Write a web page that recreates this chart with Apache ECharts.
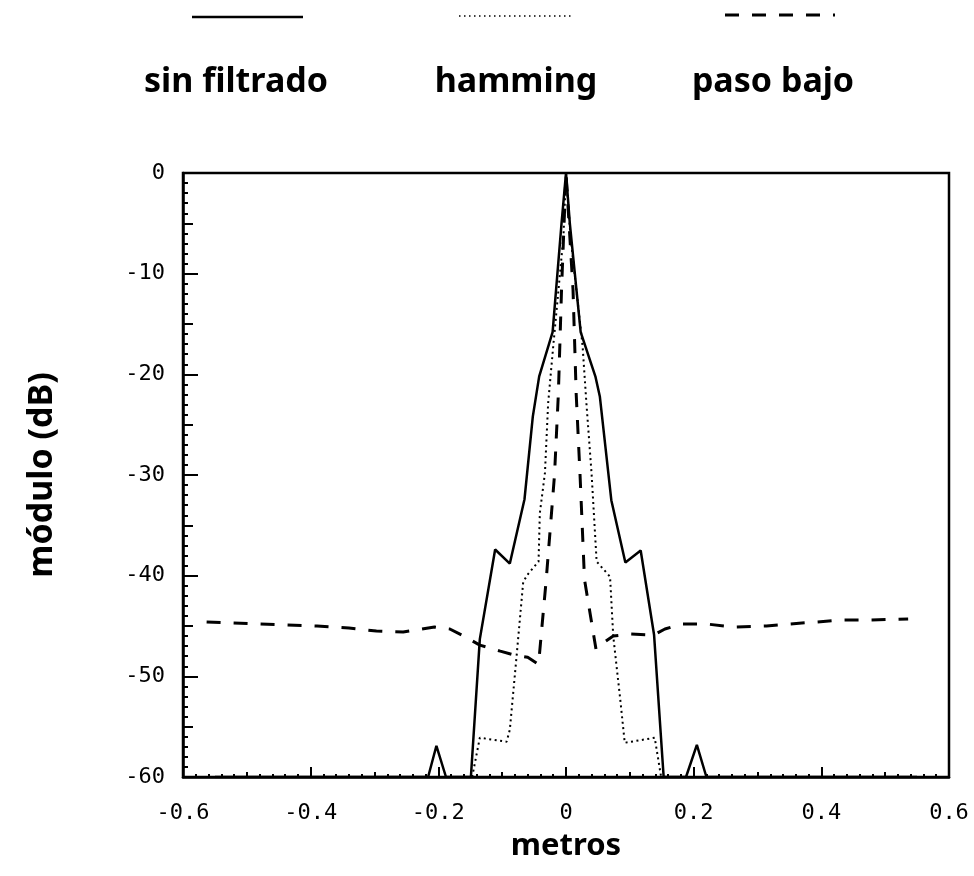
<!DOCTYPE html>
<html>
<head>
<meta charset="utf-8">
<title>modulo dB</title>
<script src="https://cdn.jsdelivr.net/npm/echarts@6/dist/echarts.min.js"></script>
<style>
  html, body { margin: 0; padding: 0; background: #fff; }
  .box { width: 974px; height: 876px; }
</style>
</head>
<body>
<div class="box"></div>
<script>
// datos (metros / dB)
var sinFiltradoX = [-0.55, -0.216, -0.203, -0.188, -0.149, -0.135, -0.111, -0.088, -0.065, -0.052, -0.042, -0.021, -0.007, 0, 0.006, 0.023, 0.046, 0.053, 0.071, 0.093, 0.117, 0.138, 0.153, 0.188, 0.205, 0.220, 0.55];
var sinFiltradoY = [-60, -60, -56.9, -60, -60, -46.3, -37.4, -38.8, -32.4, -24.2, -20.2, -15.8, -5, 0, -5, -15.8, -20.2, -22.2, -32.5, -38.7, -37.5, -45.9, -60, -60, -56.8, -60, -60];

var hammingX = [-0.147, -0.135, -0.093, -0.088, -0.077, -0.067, -0.059, -0.043, -0.041, -0.033, -0.028, -0.020, -0.004, 0, 0.007, 0.026, 0.032, 0.040, 0.048, 0.069, 0.074, 0.085, 0.092, 0.139, 0.149];
var hammingY = [-60, -56.1, -56.5, -55.3, -47.7, -40.6, -39.8, -38.6, -33.8, -29.8, -22.9, -17.2, -6.3, 0, -6.3, -17.2, -22.9, -29.8, -38.6, -40.1, -46, -52.3, -56.6, -56.1, -60];

var pasoBajoX = [-0.563, -0.48, -0.39, -0.34, -0.297, -0.255, -0.206, -0.182, -0.16, -0.135, -0.103, -0.08, -0.06, -0.043, -0.031, -0.018, -0.012, -0.007, 0, 0.011, 0.016, 0.022, 0.029, 0.047, 0.058, 0.074, 0.1, 0.137, 0.155, 0.181, 0.22, 0.262, 0.314, 0.35, 0.393, 0.435, 0.476, 0.536];
var pasoBajoY = [-44.6, -44.8, -45.0, -45.2, -45.5, -45.6, -45.1, -45.3, -46.0, -46.9, -47.5, -47.9, -48.1, -48.8, -40.4, -30, -22, -11.6, 0, -11.6, -22, -30, -40.4, -47.3, -46.7, -46.0, -45.8, -45.9, -45.3, -44.8, -44.8, -45.1, -45.0, -44.8, -44.6, -44.4, -44.4, -44.3];

var nombres = ['sin filtrado', 'hamming', 'paso bajo'];

function pares(xs, ys) {
    var out = [];
    for (var i = 0; i < xs.length; i++) {
        out.push([xs[i], ys[i]]);
    }
    return out;
}

var fuente = '"Noto Sans", sans-serif';
var mono = '"DejaVu Sans Mono", monospace';

var myChart = echarts.init(document.querySelector('.box'), null, { renderer: 'canvas' });

var option = {
    backgroundColor: '#fff',
    animation: false,
    grid: {
        left: 183, right: 25, top: 173, bottom: 99,
        show: true, borderColor: '#000', borderWidth: 2.5, backgroundColor: 'transparent'
    },
    xAxis: [
        {
            type: 'value', min: -0.6, max: 0.6, interval: 0.2,
            name: 'metros', nameLocation: 'middle', nameGap: 54,
            nameTextStyle: { fontFamily: fuente, fontWeight: 'bold', fontSize: 31, color: '#000' },
            axisLine: { onZero: false, lineStyle: { color: '#000', width: 2.5 } },
            axisTick: { inside: true, length: 10, lineStyle: { color: '#000', width: 2 } },
            minorTick: { show: true, splitNumber: 10, length: 3, lineStyle: { color: '#000', width: 2 } },
            splitLine: { show: false },
            axisLabel: {
                margin: 25, fontFamily: mono, fontSize: 22, color: '#000',
                formatter: function (v) { return Math.abs(v) < 1e-9 ? '0' : v.toFixed(1); }
            }
        },
        {
            // marcas intermedias cada 0.1
            type: 'value', min: -0.6, max: 0.6, interval: 0.1, position: 'bottom',
            axisLine: { show: false, onZero: false },
            axisTick: { inside: true, length: 5, lineStyle: { color: '#000', width: 2 } },
            axisLabel: { show: false },
            splitLine: { show: false }
        }
    ],
    yAxis: [
        {
            type: 'value', min: -60, max: 0, interval: 10,
            name: 'módulo (dB)', nameLocation: 'middle', nameGap: 124,
            nameTextStyle: { fontFamily: fuente, fontWeight: 'bold', fontSize: 34, color: '#000' },
            axisLine: { onZero: false, lineStyle: { color: '#000', width: 2.5 } },
            axisTick: { inside: true, length: 15, lineStyle: { color: '#000', width: 2 } },
            minorTick: { show: true, splitNumber: 10, length: 5, lineStyle: { color: '#000', width: 2 } },
            splitLine: { show: false },
            axisLabel: { margin: 18, fontFamily: mono, fontSize: 22, color: '#000' }
        },
        {
            // marcas intermedias cada 5 dB
            type: 'value', min: -60, max: 0, interval: 5, position: 'left',
            axisLine: { show: false, onZero: false },
            axisTick: { inside: true, length: 10, lineStyle: { color: '#000', width: 2 } },
            axisLabel: { show: false },
            splitLine: { show: false }
        }
    ],
    // leyenda dibujada a mano: muestra de linea arriba y texto debajo
    graphic: [
        { type: 'line', shape: { x1: 192, y1: 17, x2: 303, y2: 17 }, style: { stroke: '#000', lineWidth: 2.5 } },
        { type: 'line', shape: { x1: 459, y1: 16, x2: 571, y2: 16 }, style: { stroke: '#000', lineWidth: 1.5, lineDash: [1.5, 3.5] } },
        { type: 'line', shape: { x1: 725, y1: 15, x2: 835, y2: 15 }, style: { stroke: '#000', lineWidth: 3, lineDash: [14, 13] } },
        { type: 'text', x: 236, y: 82, style: { text: nombres[0], fill: '#000', font: 'bold 34px ' + fuente, textAlign: 'center', textVerticalAlign: 'middle' } },
        { type: 'text', x: 516, y: 82, style: { text: nombres[1], fill: '#000', font: 'bold 34px ' + fuente, textAlign: 'center', textVerticalAlign: 'middle' } },
        { type: 'text', x: 773, y: 82, style: { text: nombres[2], fill: '#000', font: 'bold 34px ' + fuente, textAlign: 'center', textVerticalAlign: 'middle' } }
    ],
    series: [
        {
            name: nombres[0], type: 'line', xAxisIndex: 0, yAxisIndex: 0,
            data: pares(sinFiltradoX, sinFiltradoY),
            showSymbol: false, clip: true,
            lineStyle: { color: '#000', width: 2.5, type: 'solid' }
        },
        {
            name: nombres[1], type: 'line', xAxisIndex: 0, yAxisIndex: 0,
            data: pares(hammingX, hammingY),
            showSymbol: false, clip: true,
            lineStyle: { color: '#000', width: 2, type: [2, 3.5] }
        },
        {
            name: nombres[2], type: 'line', xAxisIndex: 0, yAxisIndex: 0,
            data: pares(pasoBajoX, pasoBajoY),
            showSymbol: false, clip: true,
            lineStyle: { color: '#000', width: 3, type: [14, 13] }
        }
    ]
};

myChart.setOption(option);
</script>
</body>
</html>
